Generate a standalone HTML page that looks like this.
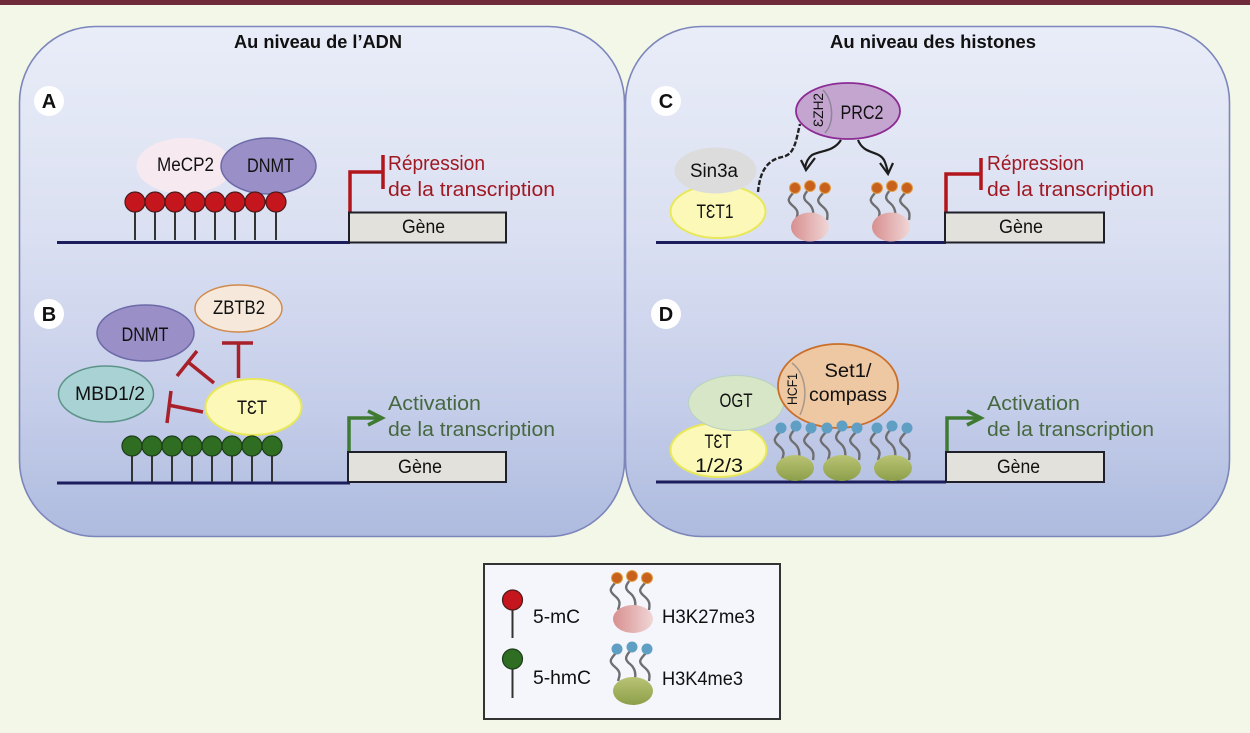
<!DOCTYPE html>
<html><head><meta charset="utf-8"><style>
html,body{margin:0;padding:0;background:#f3f7e8;width:1250px;height:733px;overflow:hidden}
svg{display:block}
text{font-family:"Liberation Sans",sans-serif;font-size:19px;fill:#111;text-anchor:middle}
.t{font-weight:bold;font-size:18.4px}
.l{font-weight:bold;font-size:20px}
.r{fill:#a01822;text-anchor:start;font-size:20px}
.g{fill:#47683f;text-anchor:start;font-size:20px}
.k{text-anchor:start;font-size:19px}
</style></head><body>
<svg width="1250" height="733" viewBox="0 0 1250 733" xmlns="http://www.w3.org/2000/svg">
<defs>
<linearGradient id="bg" x1="0" y1="0" x2="0" y2="1"><stop offset="0" stop-color="#e9edf8"/><stop offset=".4" stop-color="#dbe0f2"/><stop offset=".75" stop-color="#c4cde9"/><stop offset="1" stop-color="#aebbdf"/></linearGradient>
<linearGradient id="pk" x1="0" y1="0" x2="1" y2="0"><stop offset="0" stop-color="#d88f8f"/><stop offset="1" stop-color="#f0d6d6"/></linearGradient>
<linearGradient id="ol" x1="0" y1="0" x2="0" y2="1"><stop offset="0" stop-color="#b9c474"/><stop offset="1" stop-color="#8d9f4a"/></linearGradient>
<g id="red"><line x1="0" y1="0" x2="0" y2="38" stroke="#333" stroke-width="2"/><circle cx="0" cy="0" r="10" fill="#c4161c" stroke="#4a1a1a" stroke-width="1.2"/></g>
<g id="grn"><line x1="0" y1="0" x2="0" y2="36" stroke="#333" stroke-width="2"/><circle cx="0" cy="0" r="10" fill="#2f6d22" stroke="#1d3d1a" stroke-width="1.2"/></g>
<g id="hk"><g fill="none" stroke="#6f6f72" stroke-width="2.4"><path d="M0 0c-8 8 -8 10 -2 15s5 8 3 14"/><path d="M15 -3c-8 8 -7 11 -2 15s6 9 5 15"/><path d="M30 0c-8 8 -9 10 -3 15s6 8 5 14"/></g></g>
<g id="or"><use href="#hk"/><circle cx="0" cy="-3" r="5.5" fill="#c8611c" stroke="#e0a04a"/><circle cx="15" cy="-5" r="5.5" fill="#c8611c" stroke="#e0a04a"/><circle cx="30" cy="-3" r="5.5" fill="#c8611c" stroke="#e0a04a"/></g>
<g id="bl"><use href="#hk"/><circle cx="0" cy="-3" r="5.5" fill="#5f9fc4"/><circle cx="15" cy="-5" r="5.5" fill="#5f9fc4"/><circle cx="30" cy="-3" r="5.5" fill="#5f9fc4"/></g>
</defs>
<rect width="1250" height="733" fill="#f3f7e8"/>
<rect width="1250" height="5" fill="#6f2b3a"/>

<rect x="19.5" y="26.5" width="605" height="510" rx="76" fill="url(#bg)" stroke="#7d86bb" stroke-width="1.6"/>
<rect x="625.5" y="26.5" width="604" height="510" rx="76" fill="url(#bg)" stroke="#7d86bb" stroke-width="1.6"/>
<text x="318" y="48" class="t" textLength="168" lengthAdjust="spacingAndGlyphs">Au niveau de l’ADN</text>
<text x="933" y="48" class="t" textLength="206" lengthAdjust="spacingAndGlyphs">Au niveau des histones</text>

<circle cx="49" cy="101" r="15" fill="#fff"/><text x="49" y="108" class="l">A</text>
<circle cx="49" cy="314" r="15" fill="#fff"/><text x="49" y="321" class="l">B</text>
<circle cx="666" cy="101" r="15" fill="#fff"/><text x="666" y="108" class="l">C</text>
<circle cx="666" cy="314" r="15" fill="#fff"/><text x="666" y="321" class="l">D</text>

<!-- A -->
<ellipse cx="184.500" cy="166" rx="48" ry="28" fill="#f7e9f0"/>
<text x="185.500" y="171" textLength="57" lengthAdjust="spacingAndGlyphs">MeCP2</text>
<ellipse cx="268.500" cy="166" rx="47.500" ry="28" fill="#9b8fc8" stroke="#6d6aa8" stroke-width="1.5"/>
<text x="270.500" y="172" textLength="47" lengthAdjust="spacingAndGlyphs">DNMT</text>
<line x1="57" y1="242.500" x2="350" y2="242.500" stroke="#1b1d5c" stroke-width="3"/>
<use href="#red" x="135" y="202"/><use href="#red" x="155" y="202"/><use href="#red" x="175" y="202"/><use href="#red" x="195" y="202"/><use href="#red" x="215" y="202"/><use href="#red" x="235" y="202"/><use href="#red" x="255" y="202"/><use href="#red" x="276" y="202"/>
<path d="M350 212V172H383" fill="none" stroke="#b3151d" stroke-width="3.500"/>
<line x1="383" y1="155" x2="383" y2="189" stroke="#b3151d" stroke-width="3.500"/>
<text x="388" y="170" class="r" textLength="97" lengthAdjust="spacingAndGlyphs">Répression</text>
<text x="388" y="196" class="r" textLength="167" lengthAdjust="spacingAndGlyphs">de la transcription</text>
<rect x="349" y="212.500" width="157" height="30" fill="#e2e1dc" stroke="#1f1f2a" stroke-width="2"/>
<text x="423.500" y="233" textLength="43" lengthAdjust="spacingAndGlyphs">Gène</text>

<!-- B -->
<ellipse cx="145.500" cy="333" rx="48.500" ry="28" fill="#9b8fc8" stroke="#6d6aa8" stroke-width="1.5"/>
<text x="145" y="341" textLength="47" lengthAdjust="spacingAndGlyphs">DNMT</text>
<ellipse cx="238.500" cy="308.500" rx="43.500" ry="23.500" fill="#f6e8da" stroke="#d08a4c" stroke-width="1.500"/>
<text x="239" y="314" textLength="52" lengthAdjust="spacingAndGlyphs">ZBTB2</text>
<ellipse cx="106" cy="394" rx="47.500" ry="28" fill="#a8d2d4" stroke="#5d9488" stroke-width="1.5"/>
<text x="110" y="400" textLength="70" lengthAdjust="spacingAndGlyphs">MBD1/2</text>
<g stroke="#a8202a" stroke-width="3.500" fill="none">
<path d="M238.500 378V343M222 343H253"/>
<path d="M214 383L188 362M197 351L177 376"/>
<path d="M203 412L168 405M171 391L167 423"/>
</g>
<ellipse cx="253.500" cy="407" rx="48" ry="28" fill="#fbf8b8" stroke="#e8e85a" stroke-width="2"/>
<text x="252" y="414" textLength="30" lengthAdjust="spacingAndGlyphs">TƐT</text>
<line x1="57" y1="483" x2="350" y2="483" stroke="#1b1d5c" stroke-width="3"/>
<use href="#grn" x="132" y="446"/><use href="#grn" x="152" y="446"/><use href="#grn" x="172" y="446"/><use href="#grn" x="192" y="446"/><use href="#grn" x="212" y="446"/><use href="#grn" x="232" y="446"/><use href="#grn" x="252" y="446"/><use href="#grn" x="272" y="446"/>
<path d="M349 452V418H380" fill="none" stroke="#3f7a32" stroke-width="3.500"/>
<path d="M368 411L382 418L368 425" fill="none" stroke="#3f7a32" stroke-width="3.500"/>
<text x="388" y="410" class="g" textLength="93" lengthAdjust="spacingAndGlyphs">Activation</text>
<text x="388" y="436" class="g" textLength="167" lengthAdjust="spacingAndGlyphs">de la transcription</text>
<rect x="348" y="452" width="158" height="30" fill="#e2e1dc" stroke="#1f1f2a" stroke-width="2"/>
<text x="420" y="473" textLength="44" lengthAdjust="spacingAndGlyphs">Gène</text>

<!-- C -->
<line x1="656" y1="242.500" x2="946" y2="242.500" stroke="#1b1d5c" stroke-width="3"/>
<ellipse cx="718" cy="211.500" rx="47.500" ry="26.500" fill="#fbf8b8" stroke="#e8e85a" stroke-width="2"/>
<text x="715" y="218" textLength="37" lengthAdjust="spacingAndGlyphs">TƐT1</text>
<ellipse cx="715.500" cy="170.500" rx="41" ry="23" fill="#dcdcdc"/>
<text x="714" y="177" textLength="48" lengthAdjust="spacingAndGlyphs">Sin3a</text>
<path d="M758 192C760 170 768 160 782 157C795 155 796 140 800 124" fill="none" stroke="#222" stroke-width="2.400" stroke-dasharray="5 2"/>
<ellipse cx="848" cy="111" rx="52" ry="28" fill="#c3a5cf" stroke="#8c2c94" stroke-width="1.800"/>
<path d="M823 90C833 100 835 122 825 133" fill="none" stroke="#8f8598" stroke-width="1.500"/>
<text x="862" y="119" textLength="43" lengthAdjust="spacingAndGlyphs">PRC2</text>
<text transform="translate(823 110) rotate(-90)" style="font-size:14px" textLength="34" lengthAdjust="spacingAndGlyphs">ƐZH2</text>
<path d="M841 140C833 152 822 150 812 155C808 158 806 162 805 168" fill="none" stroke="#1d1d1d" stroke-width="2.200"/>
<path d="M801 160L806 170L815 158" fill="none" stroke="#1d1d1d" stroke-width="2.200"/>
<path d="M858 140C864 155 878 150 884 160C886 164 887 168 888 173" fill="none" stroke="#1d1d1d" stroke-width="2.200"/>
<path d="M880 163L888 174L893 163" fill="none" stroke="#1d1d1d" stroke-width="2.200"/>
<use href="#or" x="795" y="191"/><use href="#or" x="877" y="191"/>
<ellipse cx="810" cy="227" rx="19" ry="14.500" fill="url(#pk)"/>
<ellipse cx="891" cy="227" rx="19" ry="14.500" fill="url(#pk)"/>
<path d="M946 212V174H981" fill="none" stroke="#b3151d" stroke-width="3.500"/>
<line x1="981" y1="158" x2="981" y2="190" stroke="#b3151d" stroke-width="3.500"/>
<text x="987" y="170" class="r" textLength="97" lengthAdjust="spacingAndGlyphs">Répression</text>
<text x="987" y="196" class="r" textLength="167" lengthAdjust="spacingAndGlyphs">de la transcription</text>
<rect x="945" y="212.500" width="159" height="30" fill="#e2e1dc" stroke="#1f1f2a" stroke-width="2"/>
<text x="1021" y="233" textLength="44" lengthAdjust="spacingAndGlyphs">Gène</text>

<!-- D -->
<line x1="656" y1="482" x2="946" y2="482" stroke="#1b1d5c" stroke-width="3"/>
<ellipse cx="718.500" cy="450" rx="48" ry="27" fill="#fbf8b8" stroke="#e8e85a" stroke-width="2"/>
<text x="718" y="448" textLength="27" lengthAdjust="spacingAndGlyphs">TƐT</text>
<text x="719" y="472" textLength="48" lengthAdjust="spacingAndGlyphs">1/2/3</text>
<ellipse cx="736" cy="403" rx="47.500" ry="27.500" fill="#d6e6c6" stroke="#b8d0c0"/>
<text x="736" y="407" textLength="33" lengthAdjust="spacingAndGlyphs">OGT</text>
<ellipse cx="838" cy="386" rx="60" ry="42" fill="#eec7a3" stroke="#c96f2a" stroke-width="1.800"/>
<use href="#bl" x="781" y="431"/><use href="#bl" x="827" y="431"/><use href="#bl" x="877" y="431"/>
<path d="M792 363C805 373 809 395 800 415" fill="none" stroke="#a8988a" stroke-width="1.500"/>
<text transform="translate(797 389) rotate(-90)" style="font-size:14px" textLength="32" lengthAdjust="spacingAndGlyphs">HCF1</text>
<text x="848" y="377" textLength="47" lengthAdjust="spacingAndGlyphs">Set1/</text>
<text x="848" y="401" textLength="78" lengthAdjust="spacingAndGlyphs">compass</text>
<ellipse cx="795" cy="468" rx="19" ry="13" fill="url(#ol)"/>
<ellipse cx="842" cy="468" rx="19" ry="13" fill="url(#ol)"/>
<ellipse cx="893" cy="468" rx="19" ry="13" fill="url(#ol)"/>
<path d="M947 452V418H979" fill="none" stroke="#3f7a32" stroke-width="3.500"/>
<path d="M967 411L981 418L967 425" fill="none" stroke="#3f7a32" stroke-width="3.500"/>
<text x="987" y="410" class="g" textLength="93" lengthAdjust="spacingAndGlyphs">Activation</text>
<text x="987" y="436" class="g" textLength="167" lengthAdjust="spacingAndGlyphs">de la transcription</text>
<rect x="946" y="452" width="158" height="30" fill="#e2e1dc" stroke="#1f1f2a" stroke-width="2"/>
<text x="1018.500" y="473" textLength="43" lengthAdjust="spacingAndGlyphs">Gène</text>

<!-- Legend -->
<rect x="484" y="564" width="296" height="155" fill="#f5f5fc" stroke="#333" stroke-width="2"/>
<line x1="512.500" y1="600" x2="512.500" y2="638" stroke="#333" stroke-width="2"/>
<circle cx="512.500" cy="600" r="10" fill="#c4161c" stroke="#4a1a1a" stroke-width="1.200"/>
<line x1="512.500" y1="659" x2="512.500" y2="698" stroke="#333" stroke-width="2"/>
<circle cx="512.500" cy="659" r="10" fill="#2f6d22" stroke="#1d3d1a" stroke-width="1.200"/>
<text x="533" y="623" class="k" textLength="47" lengthAdjust="spacingAndGlyphs">5-mC</text>
<text x="533" y="684" class="k" textLength="58" lengthAdjust="spacingAndGlyphs">5-hmC</text>
<use href="#or" x="617" y="581"/>
<ellipse cx="633" cy="619" rx="20" ry="14" fill="url(#pk)"/>
<use href="#bl" x="617" y="652"/>
<ellipse cx="633" cy="691" rx="20" ry="14" fill="url(#ol)"/>
<text x="662" y="623" class="k" textLength="93" lengthAdjust="spacingAndGlyphs">H3K27me3</text>
<text x="662" y="685" class="k" textLength="81" lengthAdjust="spacingAndGlyphs">H3K4me3</text>
</svg>
</body></html>
